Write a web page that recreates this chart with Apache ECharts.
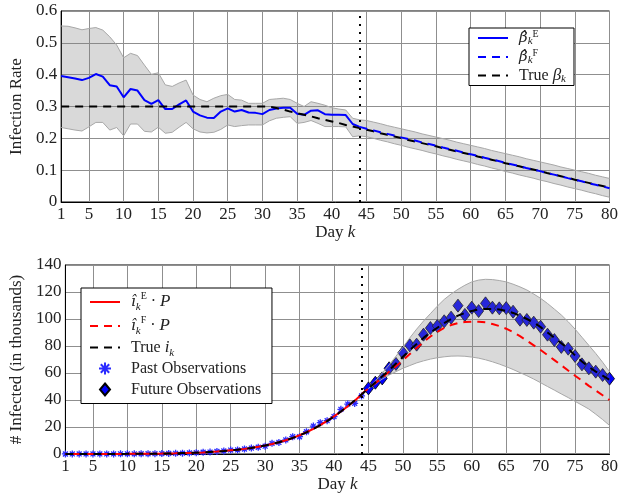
<!DOCTYPE html>
<html>
<head>
<meta charset="utf-8">
<script src="https://cdn.jsdelivr.net/npm/echarts@6/dist/echarts.min.js"></script>
<style>
html,body{margin:0;padding:0;background:#fff}
#main{width:621px;height:498px}
</style>
</head>
<body>
<div id="main"></div>
<script>
var days = [];
for (var d = 1; d <= 80; d++) days.push(String(d));
var splitDay = '44';

// top panel: infection rate (k = 1..80 unless noted)
var betaTrue = [0.300,0.300,0.300,0.300,0.300,0.300,0.300,0.300,0.300,0.300,
  0.300,0.300,0.300,0.300,0.300,0.300,0.300,0.300,0.300,0.300,
  0.300,0.300,0.300,0.300,0.300,0.300,0.300,0.300,0.300,0.300,
  0.300,0.295,0.290,0.284,0.279,0.274,0.269,0.263,0.258,0.253,
  0.248,0.242,0.237,0.232,0.227,0.222,0.216,0.211,0.206,0.201,
  0.195,0.190,0.185,0.180,0.175,0.169,0.164,0.159,0.154,0.149,
  0.143,0.138,0.133,0.128,0.122,0.117,0.112,0.107,0.102,0.097,
  0.091,0.086,0.081,0.076,0.070,0.065,0.060,0.055,0.050,0.045];
// k = 1..44
var betaEst = [0.396,0.392,0.388,0.383,0.390,0.402,0.394,0.367,0.363,0.329,
  0.355,0.350,0.320,0.308,0.320,0.292,0.292,0.307,0.319,0.284,
  0.272,0.265,0.264,0.284,0.294,0.284,0.289,0.281,0.280,0.276,
  0.289,0.294,0.296,0.296,0.277,0.274,0.287,0.288,0.276,0.274,
  0.274,0.273,0.245,0.236];
// k = 44..80
var betaFcst = [0.236,0.230,0.225,0.219,0.214,0.209,0.203,0.198,0.193,0.187,
  0.182,0.177,0.171,0.166,0.161,0.155,0.150,0.145,0.139,0.134,
  0.129,0.123,0.118,0.113,0.107,0.102,0.097,0.091,0.086,0.081,
  0.075,0.070,0.065,0.059,0.054,0.049,0.043];
var betaUpper = [0.553,0.552,0.547,0.541,0.545,0.548,0.540,0.519,0.493,0.453,
  0.467,0.460,0.430,0.401,0.406,0.368,0.363,0.374,0.383,0.336,
  0.322,0.315,0.326,0.334,0.338,0.322,0.320,0.310,0.310,0.310,
  0.322,0.324,0.326,0.322,0.310,0.300,0.315,0.310,0.304,0.296,
  0.292,0.289,0.263,0.258,0.256,0.251,0.246,0.240,0.235,0.230,
  0.225,0.220,0.214,0.209,0.204,0.199,0.194,0.188,0.183,0.178,
  0.173,0.168,0.162,0.157,0.152,0.147,0.142,0.136,0.131,0.126,
  0.121,0.116,0.110,0.105,0.100,0.095,0.090,0.084,0.079,0.074];
var betaLower = [0.234,0.230,0.226,0.223,0.236,0.250,0.250,0.226,0.234,0.208,
  0.245,0.245,0.222,0.220,0.235,0.216,0.219,0.235,0.250,0.230,
  0.220,0.217,0.219,0.228,0.242,0.237,0.240,0.242,0.242,0.242,
  0.255,0.263,0.266,0.268,0.247,0.250,0.256,0.247,0.237,0.237,
  0.237,0.236,0.205,0.208,0.205,0.200,0.194,0.189,0.183,0.178,
  0.172,0.167,0.162,0.156,0.151,0.145,0.140,0.134,0.129,0.124,
  0.118,0.113,0.107,0.102,0.096,0.091,0.085,0.080,0.075,0.069,
  0.064,0.058,0.053,0.047,0.042,0.037,0.031,0.026,0.020,0.015];

// bottom panel: infected, thousands
var infTrue = [0.02,0.03,0.03,0.04,0.05,0.06,0.07,0.08,0.09,0.1,
  0.13,0.16,0.2,0.25,0.32,0.4,0.5,0.65,0.8,1.0,
  1.2,1.5,1.8,2.2,2.7,3.2,3.8,4.5,5.3,6.3,
  7.4,8.7,10.2,11.9,13.8,16.0,18.5,21.3,24.4,27.8,
  31.5,35.5,39.6,44.0,48.5,53,57.5,62,67,72,
  77,81.5,86,90,93.5,97,100,102.5,104.5,106,
  107,107.5,107.5,107,106,104.5,102.5,100,97.5,94,
  90,86,82,78,73,68.5,64.5,61,58,55];
// k = 1..44
var infEst = [0.02,0.03,0.03,0.04,0.05,0.06,0.07,0.08,0.09,0.1,
  0.13,0.16,0.2,0.25,0.32,0.4,0.5,0.65,0.8,1.0,
  1.2,1.5,1.8,2.2,2.7,3.2,3.8,4.5,5.3,6.3,
  7.4,8.7,10.2,11.9,13.9,16.1,18.6,21.4,24.5,27.9,
  31.5,35.4,39.5,44.0];
// k = 44..80
var infFcst = [44.5,48.5,52.5,56.5,61,65,69.5,74,78.5,83,
  87,90.5,93.5,95.5,97,97.8,98,98,97.5,96.3,
  94.8,92.8,90.3,87.3,84,80.5,77,73.3,69.5,65.7,
  61.8,58,54.3,50.5,47,43.5,40];
// k = 1..44
var pastObs = [0.02,0.03,0.03,0.04,0.05,0.06,0.07,0.08,0.1,0.1,
  0.13,0.16,0.2,0.25,0.3,0.4,0.5,0.6,0.8,1.0,
  1.3,1.4,1.9,2.3,2.9,3.0,3.7,4.4,5.0,5.8,
  7.9,8.6,10.4,12.8,12.8,16.5,20.7,23.2,24.7,27.7,
  33.1,37.0,37.5,43.0];
// k = 45..80
var futureObs = [48.6,52.8,56,63.5,66.7,75,80.5,81,88.4,93.3,
  94.8,98.3,101,109.9,103,108.4,105.9,111.6,108.4,107.9,
  108.1,105.4,99.5,99.3,97.3,94.3,88.4,84.4,79.3,78,
  72.6,66.4,63.5,61,58.5,55.8];
var infUpper = [48.5,54,60,66,72.5,79,86,92.5,98.5,104,
  109.5,114.5,118.5,122,125,127.5,128.8,129.4,129.2,128.5,
  127.5,125.8,123.8,121.5,118.5,115.3,111.5,107.3,103,98,
  92.5,86.5,80.5,74.5,68,61];
var infLower = [48.5,52,55.5,58.5,61,63.5,65.5,67.5,69,70.3,
  71.3,72,72.5,72.6,72.4,71.8,71,69.8,68.3,66.6,
  64.7,62.6,60.3,58,55.5,52.8,50,47.3,44.5,41.8,
  39,36.2,33.3,29.5,25.5,21.2];

function pad(arr, startDay) {
  var out = [];
  for (var i = 1; i < startDay; i++) out.push('-');
  return out.concat(arr);
}
function diff(up, lo) {
  var out = [];
  for (var i = 0; i < up.length; i++) {
    out.push(up[i] === '-' ? '-' : +(up[i] - lo[i]).toFixed(4));
  }
  return out;
}

var FONT = 'Liberation Serif';
var TXT = '#222';
var GRIDC = '#8f8f8f';
var bandFill = 'rgba(128,128,128,0.3)';
var bandEdge = '#a8a8a8';

function showTick(index, value) {
  return value === '1' || (+value) % 5 === 0;
}

function xAxisCfg(idx) {
  return {
    type: 'category', gridIndex: idx, data: days, boundaryGap: false,
    name: '{t|Day }{i|k}', nameLocation: 'middle', nameGap: 22,
    nameTextStyle: {
      color: TXT, fontFamily: FONT, fontSize: 17,
      rich: { t: {fontFamily: FONT, fontSize: 17, color: TXT},
              i: {fontFamily: FONT, fontSize: 17, color: TXT, fontStyle: 'italic'} }
    },
    axisLine: {lineStyle: {color: '#000', width: 1}},
    axisTick: {show: false},
    axisLabel: {interval: showTick, color: TXT, fontFamily: FONT, fontSize: 17, margin: 4},
    splitLine: {show: true, interval: showTick, lineStyle: {color: GRIDC, width: 1}}
  };
}
function yAxisCfg(idx, name, max, step) {
  return {
    type: 'value', gridIndex: idx, min: 0, max: max, interval: step,
    name: name, nameLocation: 'middle', nameGap: 35,
    nameTextStyle: {color: TXT, fontFamily: FONT, fontSize: 17},
    axisLine: {show: true, lineStyle: {color: '#000', width: 1}},
    axisTick: {show: false},
    axisLabel: {color: TXT, fontFamily: FONT, fontSize: 17, margin: 4},
    splitLine: {show: true, lineStyle: {color: GRIDC, width: 1}}
  };
}

function makeRich(lh) {
  return {
    g: {width: 6, lineHeight: lh},
    h: {fontFamily: 'DejaVu Serif', fontSize: 15, color: TXT, fontStyle: 'italic', lineHeight: lh, verticalAlign: 'middle'},
    b: {fontFamily: FONT, fontSize: 17, color: TXT, fontStyle: 'italic', lineHeight: lh, verticalAlign: 'middle'},
    t: {fontFamily: FONT, fontSize: 16, color: TXT, lineHeight: lh, verticalAlign: 'middle'},
    sub: {fontFamily: FONT, fontSize: 11, color: TXT, fontStyle: 'italic', lineHeight: 10, verticalAlign: 'bottom'},
    sup: {fontFamily: FONT, fontSize: 10, color: TXT, lineHeight: 12, verticalAlign: 'top'}
  };
}
var legendLabels = {
  'betaE': '{g| }{h|β̂}{sub|k}{sup|E}',
  'betaF': '{g| }{h|β̂}{sub|k}{sup|F}',
  'betaTrue': '{g| }{t|True }{b|β}{sub|k}',
  'iE': '{g| }{h|î}{sub|k}{sup|E}{t| · }{b|P}',
  'iF': '{g| }{h|î}{sub|k}{sup|F}{t| · }{b|P}',
  'iTrue': '{g| }{t|True }{b|i}{sub|k}',
  'past': '{g| }{t|Past Observations}{sub| }',
  'future': '{g| }{t|Future Observations}{sub| }'
};
var hideSym = {opacity: 0};

var starPath = 'path://M0,-1L0,1M-1,0L1,0M-0.7,-0.7L0.7,0.7M-0.7,0.7L0.7,-0.7';
var dash = [8, 6];

var dotLine = {
  symbol: 'none', silent: true, label: {show: false},
  lineStyle: {color: '#000', type: [2, 6], width: 2, cap: 'butt'},
  data: [{xAxis: splitDay}]
};

var chart = echarts.init(document.getElementById('main'));
chart.setOption({
  animation: false,
  backgroundColor: '#fff',
  grid: [
    {left: 61, right: 9, top: 11, bottom: 296, show: true, borderColor: '#000', borderWidth: 1, backgroundColor: 'transparent'},
    {left: 61, right: 9, top: 265, bottom: 44, show: true, borderColor: '#000', borderWidth: 1, backgroundColor: 'transparent'}
  ],
  xAxis: [xAxisCfg(0), xAxisCfg(1)],
  yAxis: [yAxisCfg(0, 'Infection Rate', 0.6, 0.1), yAxisCfg(1, '# Infected (in thousands)', 140, 20)],
  legend: [
    {
      data: [{name: 'betaE', itemStyle: hideSym}, {name: 'betaF', itemStyle: hideSym}, {name: 'betaTrue', itemStyle: hideSym}],
      orient: 'vertical', left: 469, top: 28,
      backgroundColor: '#fff', borderColor: '#000', borderWidth: 1, borderRadius: 0,
      padding: [1, 8, 1, 8], itemGap: 1, itemWidth: 30, itemHeight: 12,
      formatter: function (n) { return legendLabels[n]; },
      textStyle: {rich: makeRich(18)}
    },
    {
      data: [{name: 'iE', itemStyle: hideSym}, {name: 'iF', itemStyle: hideSym}, {name: 'iTrue', itemStyle: hideSym},
        'past', {name: 'future', icon: 'path://M5,0L10,6L5,12L0,6Z'}],
      orient: 'vertical', left: 81, top: 288,
      backgroundColor: '#fff', borderColor: '#000', borderWidth: 1, borderRadius: 0,
      padding: [3, 8, 3, 8], itemGap: 2, itemWidth: 30, itemHeight: 12,
      formatter: function (n) { return legendLabels[n]; },
      textStyle: {rich: makeRich(22)}
    }
  ],
  series: [
    // top band
    {type: 'line', xAxisIndex: 0, yAxisIndex: 0, stack: 'bandTop', data: betaLower,
      symbol: 'none', lineStyle: {color: bandEdge, width: 1}, silent: true},
    {type: 'line', xAxisIndex: 0, yAxisIndex: 0, stack: 'bandTop', data: diff(betaUpper, betaLower),
      symbol: 'none', lineStyle: {color: bandEdge, width: 1}, areaStyle: {color: bandFill, opacity: 1}, silent: true},
    {name: 'betaE', type: 'line', xAxisIndex: 0, yAxisIndex: 0, data: betaEst, symbol: 'none',
      lineStyle: {color: '#0000ff', width: 2}, itemStyle: {color: '#0000ff'}},
    {name: 'betaTrue', type: 'line', xAxisIndex: 0, yAxisIndex: 0, data: betaTrue, symbol: 'none',
      lineStyle: {color: '#000', width: 2, type: dash}, itemStyle: {color: '#000'}, markLine: dotLine},
    {name: 'betaF', type: 'line', xAxisIndex: 0, yAxisIndex: 0, data: pad(betaFcst, 44), symbol: 'none',
      lineStyle: {color: '#0000ff', width: 2, type: dash}, itemStyle: {color: '#0000ff'}},

    // bottom band
    {type: 'line', xAxisIndex: 1, yAxisIndex: 1, stack: 'bandBot', data: pad(infLower, 45),
      symbol: 'none', lineStyle: {color: bandEdge, width: 1}, silent: true},
    {type: 'line', xAxisIndex: 1, yAxisIndex: 1, stack: 'bandBot', data: pad(diff(infUpper, infLower), 45),
      symbol: 'none', lineStyle: {color: bandEdge, width: 1}, areaStyle: {color: bandFill, opacity: 1}, silent: true},
    {name: 'iE', type: 'line', xAxisIndex: 1, yAxisIndex: 1, data: infEst, symbol: 'none',
      lineStyle: {color: '#ff0000', width: 2}, itemStyle: {color: '#ff0000'}},
    {name: 'iF', type: 'line', xAxisIndex: 1, yAxisIndex: 1, data: pad(infFcst, 44), symbol: 'none',
      lineStyle: {color: '#ff0000', width: 2, type: dash}, itemStyle: {color: '#ff0000'}},
    {name: 'iTrue', type: 'line', xAxisIndex: 1, yAxisIndex: 1, data: infTrue, symbol: 'none',
      lineStyle: {color: '#000', width: 2, type: dash}, itemStyle: {color: '#000'}, markLine: dotLine},
    {name: 'past', type: 'scatter', xAxisIndex: 1, yAxisIndex: 1, data: pastObs,
      symbol: starPath, symbolSize: 7,
      itemStyle: {color: '#2b2bff', borderColor: '#2b2bff', borderWidth: 1.3, opacity: 1}},
    {name: 'future', type: 'scatter', xAxisIndex: 1, yAxisIndex: 1, data: pad(futureObs, 45),
      symbol: 'diamond', symbolSize: [10, 13],
      itemStyle: {color: '#0000ff', borderColor: '#000', borderWidth: 0.8, opacity: 1}}
  ]
});
</script>
</body>
</html>
